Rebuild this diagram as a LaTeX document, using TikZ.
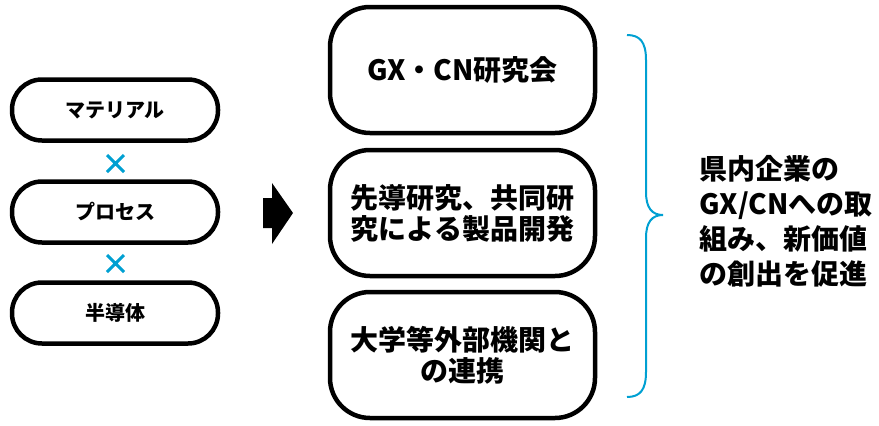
\documentclass[tikz,border=0pt]{standalone}
\usepackage{fontspec}
\setmainfont{Noto Sans CJK JP}
\definecolor{accent}{RGB}{0,160,210}
\begin{document}
\begin{tikzpicture}[x=1pt,y=-1pt,
  pill/.style={draw=black,line width=4.5pt,rounded corners=30pt,minimum width=206pt,minimum height=61pt,inner sep=0pt,font=\bfseries\fontsize{20pt}{24pt}\selectfont},
  bigbox/.style={draw=black,line width=4.5pt,rounded corners=40pt,minimum width=265pt,minimum height=126pt,inner sep=0pt,align=center,font=\bfseries\fontsize{28pt}{31pt}\selectfont},
  cross/.style={draw=accent,line width=3pt},
  brace/.style={draw=accent,line width=2pt},
  result/.style={align=left,inner sep=0pt,anchor=west,font=\bfseries\fontsize{28pt}{35pt}\selectfont}]
\useasboundingbox (0,0) rectangle (879,426);
% left boxes
\node[pill] (mat) at (115,110) {マテリアル};
\node[pill] (pro) at (115,212) {プロセス};
\node[pill] (semi) at (115,313) {半導体};
% crosses
\draw[cross] (107,155) -- (124,172) (124,155) -- (107,172);
\draw[cross] (107,255) -- (124,272) (124,255) -- (107,272);
% arrow
\fill[black] (263,198) -- (272,198) -- (272,183) -- (293,213) -- (272,244) -- (272,228) -- (263,228) -- cycle;
% middle boxes
\node[bigbox] (gx) at (462.5,70) {GX・CN研究会};
\node[bigbox] (dev) at (462.5,213) {先導研究、共同研\\究による製品開発};
\node[bigbox] (uni) at (462.5,355) {大学等外部機関と\\の連携};
% brace
\draw[brace] (627,35) .. controls (640,35) and (646,42) .. (646,60) -- (646,192)
  .. controls (646,208) and (652,215) .. (663,215)
  .. controls (652,215) and (646,222) .. (646,238) -- (646,372)
  .. controls (646,390) and (640,397) .. (627,397);
% result text
\node[result] (res) at (699,221) {県内企業の\\GX/CNへの取\\組み、新価値\\の創出を促進};
\end{tikzpicture}
\end{document}
